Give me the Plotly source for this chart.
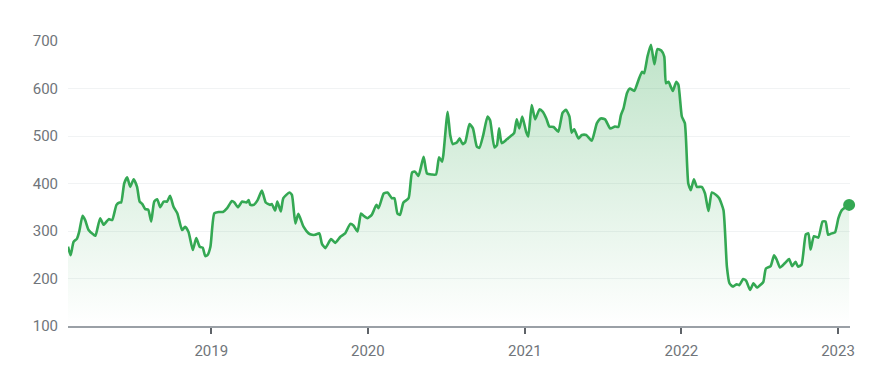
import plotly.graph_objects as go
import pandas as pd

BASE_DATE = "2018-01-01"

# days since BASE_DATE
day_offsets = [
    31, 37, 44, 52, 57, 65, 71, 79, 91, 95, 106, 114, 126, 134, 144, 151, 155, 162, 169, 176,
    184, 192, 198, 204, 211, 218, 225, 232, 239, 246, 254, 262, 269, 277, 286, 297, 304, 312, 322, 330,
    338, 345, 351, 356, 363, 372, 382, 392, 402, 413, 419, 427, 437, 447, 452, 456, 464, 473, 483, 492,
    502, 506, 514, 519, 527, 533, 547, 553, 561, 568, 580, 592, 600, 607, 617, 623, 631, 644, 654, 666,
    677, 689, 697, 706, 714, 720, 729, 739, 750, 755, 767, 776, 786, 792, 799, 805, 813, 825, 833, 840,
    848, 860, 868, 879, 889, 896, 903, 906, 916, 922, 928, 938, 944, 951, 957, 967, 975, 984, 990, 999,
    1009, 1015, 1025, 1031, 1036, 1042, 1054, 1066, 1071, 1077, 1083, 1090, 1099, 1104, 1112, 1120, 1130, 1138, 1146, 1153,
    1163, 1174, 1184, 1192, 1200, 1205, 1211, 1221, 1229, 1239, 1252, 1264, 1273, 1283, 1295, 1306, 1314, 1320, 1326, 1334,
    1341, 1351, 1361, 1369, 1374, 1382, 1390, 1398, 1405, 1414, 1421, 1425, 1431, 1436, 1441, 1449, 1454, 1462, 1469, 1477,
    1483, 1490, 1497, 1508, 1516, 1524, 1532, 1542, 1549, 1559, 1567, 1573, 1581, 1590, 1596, 1605, 1612, 1621, 1629, 1637,
    1647, 1652, 1658, 1669, 1677, 1683, 1691, 1702, 1712, 1719, 1727, 1733, 1741, 1751, 1757, 1762, 1770, 1780, 1790, 1797,
    1803, 1811, 1819, 1827, 1835, 1852,
]

prices = [
    267, 249, 277, 284, 298, 332, 323, 302, 292, 290, 327, 313, 325, 323, 355, 360, 360, 400, 413, 393,
    409, 393, 362, 357, 346, 345, 320, 362, 367, 350, 362, 362, 374, 351, 337, 302, 309, 298, 260, 285,
    267, 265, 247, 249, 267, 337, 340, 340, 348, 363, 360, 350, 362, 360, 365, 355, 355, 365, 385, 360,
    355, 357, 343, 362, 341, 369, 381, 376, 316, 336, 309, 295, 292, 292, 295, 273, 264, 283, 275, 288,
    295, 315, 311, 299, 337, 332, 327, 334, 355, 348, 379, 381, 369, 369, 337, 334, 360, 369, 423, 425,
    416, 456, 421, 419, 419, 455, 446, 460, 551, 502, 483, 487, 495, 483, 487, 525, 516, 478, 475, 502,
    541, 533, 476, 481, 516, 485, 493, 502, 506, 535, 516, 541, 509, 499, 565, 535, 556, 551, 537, 520,
    519, 509, 549, 555, 541, 507, 514, 495, 502, 502, 490, 527, 537, 535, 516, 520, 519, 544, 558, 590,
    600, 595, 618, 635, 632, 668, 692, 651, 683, 680, 667, 611, 614, 604, 595, 614, 608, 541, 527, 400,
    386, 409, 393, 393, 379, 342, 381, 376, 369, 344, 225, 190, 183, 188, 186, 199, 195, 176, 190, 181,
    188, 193, 221, 226, 249, 240, 223, 232, 241, 226, 235, 225, 229, 293, 295, 261, 289, 286, 320, 320,
    292, 295, 297, 327, 344, 355,
]

year_ticks = ["2019-01-01", "2020-01-01", "2021-01-01", "2022-01-01", "2023-01-01"]
year_labels = ["2019", "2020", "2021", "2022", "2023"]
y_ticks = [100, 200, 300, 400, 500, 600, 700]

base = pd.Timestamp(BASE_DATE)
dates = [base + pd.Timedelta(days=d) for d in day_offsets]
x_start = base + pd.Timedelta(days=31)
x_end = base + pd.Timedelta(days=1854)

GREEN = "#34a853"
GREY_TXT = "#70757a"

fig = go.Figure()
fig.add_trace(go.Scatter(
    x=dates, y=prices, mode="lines",
    line=dict(color=GREEN, width=2.6, shape="spline", smoothing=0.5),
    fill="tozeroy",
    fillgradient=dict(type="vertical",
                      colorscale=[[0, "rgba(52,168,83,0)"], [1, "rgba(52,168,83,0.32)"]],
                      start=100, stop=700),
    hoverinfo="skip", showlegend=False,
))
fig.add_trace(go.Scatter(
    x=[dates[-1]], y=[prices[-1]], mode="markers",
    marker=dict(color=GREEN, size=12),
    cliponaxis=False,
    hoverinfo="skip", showlegend=False,
))

fig.update_layout(
    width=874, height=360,
    margin=dict(l=60, r=32, t=33, b=42),
    paper_bgcolor="white", plot_bgcolor="white",
    font=dict(family="Roboto, Arial, sans-serif", size=15, color=GREY_TXT),
)
fig.update_xaxes(
    automargin=False,
    range=[x_start, x_end],
    tickvals=year_ticks, ticktext=year_labels,
    showgrid=False, zeroline=False,
    showline=True, linecolor="#9aa0a6", linewidth=2,
    ticks="outside", ticklen=6, tickwidth=2, tickcolor="#5f6368",
    ticklabelstandoff=4,
    tickfont=dict(size=15, color=GREY_TXT),
)
fig.update_yaxes(
    automargin=False,
    range=[100, 700],
    tickvals=y_ticks,
    showgrid=True, gridcolor="#f1f3f4", gridwidth=1,
    zeroline=False, showline=False,
    ticks="outside", ticklen=6, tickcolor="rgba(0,0,0,0)",
    tickfont=dict(size=15, color=GREY_TXT),
)

fig.write_html("out.html")
